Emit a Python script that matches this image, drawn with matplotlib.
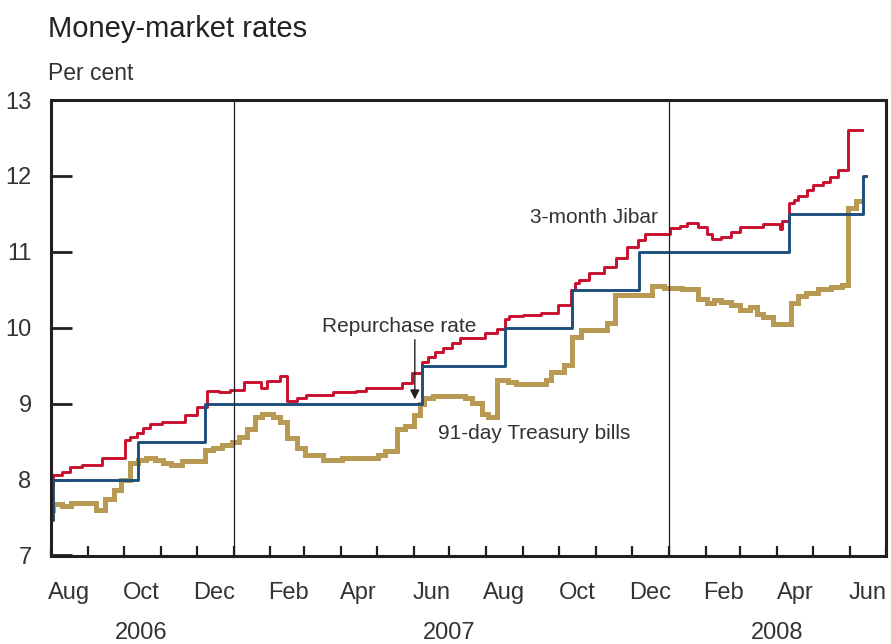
import matplotlib
matplotlib.use("Agg")
import matplotlib.pyplot as plt
import matplotlib.dates as mdates
import matplotlib.transforms as mtransforms
import numpy as np
import pandas as pd

plt.rcParams['font.family'] = ['Liberation Sans', 'DejaVu Sans']

# repurchase rate (step changes)
repo_dates = ["2006-08-01", "2006-08-03", "2006-10-13", "2006-12-08", "2007-06-08",
              "2007-08-17", "2007-10-12", "2007-12-07", "2008-04-11", "2008-06-12",
              "2008-06-14"]
repo_vals = [7.47, 8.0, 8.5, 9.0, 9.5, 10.0, 10.5, 11.0, 11.5, 12.0, 12.0]

# 3-month Jibar
jibar_dates = ["2006-08-01", "2006-08-03", "2006-08-10", "2006-08-17", "2006-08-27",
               "2006-09-13", "2006-10-02", "2006-10-06", "2006-10-12", "2006-10-17",
               "2006-10-23", "2006-11-02", "2006-11-21", "2006-12-01", "2006-12-10",
               "2006-12-20", "2006-12-29", "2007-01-10", "2007-01-24", "2007-01-29",
               "2007-02-09", "2007-02-15", "2007-02-23", "2007-03-03", "2007-03-25",
               "2007-04-14", "2007-04-22", "2007-05-22", "2007-05-31", "2007-06-08",
               "2007-06-13", "2007-06-19", "2007-06-26", "2007-07-03", "2007-07-10",
               "2007-07-31", "2007-08-10", "2007-08-17", "2007-08-20", "2007-09-01",
               "2007-09-16", "2007-09-30", "2007-10-11", "2007-10-14", "2007-10-18",
               "2007-10-26", "2007-11-08", "2007-11-18", "2007-11-27", "2007-12-06",
               "2007-12-12", "2008-01-02", "2008-01-10", "2008-01-16", "2008-01-25",
               "2008-02-02", "2008-02-06", "2008-02-14", "2008-02-22", "2008-03-01",
               "2008-03-20", "2008-04-03", "2008-04-05", "2008-04-11", "2008-04-15",
               "2008-04-18", "2008-04-26", "2008-05-01", "2008-05-09", "2008-05-15",
               "2008-05-22", "2008-05-30", "2008-06-11"]
jibar_vals = [7.93, 8.06, 8.10, 8.16, 8.19,
              8.28, 8.52, 8.56, 8.61, 8.68,
              8.73, 8.76, 8.85, 8.96, 9.17,
              9.16, 9.18, 9.29, 9.20, 9.30,
              9.37, 9.03, 9.07, 9.11, 9.16,
              9.17, 9.20, 9.27, 9.40, 9.55,
              9.62, 9.68, 9.73, 9.80, 9.86,
              9.93, 9.98, 10.11, 10.15, 10.17,
              10.20, 10.30, 10.50, 10.59, 10.63,
              10.72, 10.80, 10.92, 11.07, 11.15,
              11.24, 11.31, 11.34, 11.38, 11.33,
              11.24, 11.17, 11.19, 11.26, 11.33,
              11.37, 11.30, 11.40, 11.64, 11.68,
              11.73, 11.81, 11.88, 11.92, 11.99,
              12.08, 12.60, 12.60]

# 91-day Treasury bills
tb_dates = ["2006-08-01", "2006-08-03", "2006-08-10", "2006-08-18", "2006-09-08",
            "2006-09-15", "2006-09-23", "2006-09-29", "2006-10-06", "2006-10-13",
            "2006-10-20", "2006-10-27", "2006-11-03", "2006-11-10", "2006-11-19",
            "2006-12-08", "2006-12-15", "2006-12-22", "2006-12-31", "2007-01-06",
            "2007-01-12", "2007-01-19", "2007-01-25", "2007-02-03", "2007-02-09",
            "2007-02-15", "2007-02-23", "2007-03-02", "2007-03-17", "2007-04-02",
            "2007-05-02", "2007-05-08", "2007-05-18", "2007-05-25", "2007-06-01",
            "2007-06-06", "2007-06-10", "2007-06-17", "2007-07-14", "2007-07-20",
            "2007-07-28", "2007-08-02", "2007-08-10", "2007-08-19", "2007-08-26",
            "2007-09-20", "2007-09-24", "2007-10-05", "2007-10-12", "2007-10-19",
            "2007-11-10", "2007-11-17", "2007-12-18", "2007-12-28", "2008-01-12",
            "2008-01-25", "2008-02-02", "2008-02-08", "2008-02-14", "2008-02-22",
            "2008-03-01", "2008-03-09", "2008-03-15", "2008-03-20", "2008-03-28",
            "2008-04-12", "2008-04-18", "2008-04-25", "2008-05-05", "2008-05-16",
            "2008-05-25", "2008-05-30", "2008-06-06", "2008-06-11"]
tb_vals = [7.60, 7.68, 7.65, 7.69, 7.60,
           7.75, 7.86, 8.00, 8.22, 8.26,
           8.29, 8.26, 8.22, 8.19, 8.24,
           8.39, 8.42, 8.46, 8.50, 8.56,
           8.66, 8.83, 8.87, 8.83, 8.76,
           8.55, 8.41, 8.32, 8.26, 8.28,
           8.32, 8.37, 8.66, 8.70, 8.85,
           9.00, 9.07, 9.10, 9.07, 9.01,
           8.87, 8.83, 9.31, 9.29, 9.26,
           9.31, 9.42, 9.51, 9.88, 9.97,
           10.06, 10.43, 10.55, 10.53, 10.51,
           10.38, 10.33, 10.37, 10.34, 10.30,
           10.24, 10.27, 10.18, 10.14, 10.05,
           10.33, 10.42, 10.46, 10.51, 10.54,
           10.56, 11.58, 11.67, 11.67]

ink = "#231f20"
txt = "#333333"

fig = plt.figure(figsize=(8.91, 6.44), dpi=100)
ax = fig.add_axes([51/891, 1 - 555.5/644, 835/891, 455.5/644])

ax.plot(pd.to_datetime(tb_dates), tb_vals, drawstyle='steps-post', color="#b99a55", lw=3.6,
        solid_joinstyle='miter')
ax.plot(pd.to_datetime(jibar_dates), jibar_vals, drawstyle='steps-post', color="#c8102e", lw=2.1)
ax.plot(pd.to_datetime(repo_dates), repo_vals, drawstyle='steps-post', color="#1d4f7c", lw=2.1)

for yr in ["2007-01-01", "2008-01-01"]:
    ax.axvline(pd.Timestamp(yr), color=ink, lw=0.9)

ax.set_xlim(pd.Timestamp("2006-08-01"), pd.Timestamp("2008-07-01"))
ax.set_ylim(7, 13)
ax.set_yticks(np.arange(7, 14, 1))

ax.xaxis.set_minor_locator(mdates.MonthLocator())
ax.xaxis.set_major_locator(mdates.MonthLocator(bymonth=[2, 4, 6, 8, 10, 12], bymonthday=16))
ax.xaxis.set_major_formatter(mdates.DateFormatter('%b'))
ax.tick_params(axis='x', which='major', length=0, pad=19, labelsize=17, labelcolor=txt)
ax.tick_params(axis='x', which='minor', direction='in', length=7, width=1.6, color=ink)
ax.tick_params(axis='y', direction='in', length=15, width=2, color=ink, labelsize=17,
               labelcolor=txt, pad=14)

for s in ax.spines.values():
    s.set_linewidth(2.2)
    s.set_color(ink)

trans = mtransforms.blended_transform_factory(ax.transData, ax.transAxes)
for yr, d in [("2006", "2006-10-16"), ("2007", "2007-07-01"), ("2008", "2008-04-01")]:
    ax.text(pd.Timestamp(d), -0.17, yr, transform=trans, ha='center', va='center',
            fontsize=17, color=txt)

fig.text(48/891, 1 - 29/644, "Money-market rates", fontsize=21, color="#222222",
         ha='left', va='center')
fig.text(48/891, 1 - 74/644, "Per cent", fontsize=16.5, color=txt, ha='left', va='center')

ax.text(pd.Timestamp("2007-10-30"), 11.45, "3-month Jibar", fontsize=15, color=txt,
        ha='center', va='center')
ax.text(pd.Timestamp("2007-05-20"), 10.01, "Repurchase rate", fontsize=15, color=txt,
        ha='center', va='center')
ax.text(pd.Timestamp("2007-09-10"), 8.61, "91-day Treasury bills", fontsize=15, color=txt,
        ha='center', va='center')
ax.annotate("", xy=(pd.Timestamp("2007-06-02"), 9.02), xytext=(pd.Timestamp("2007-06-02"), 9.88),
            arrowprops=dict(arrowstyle='-|>', color=ink, lw=1.0, mutation_scale=14))

fig.savefig("out.png", dpi=100)
